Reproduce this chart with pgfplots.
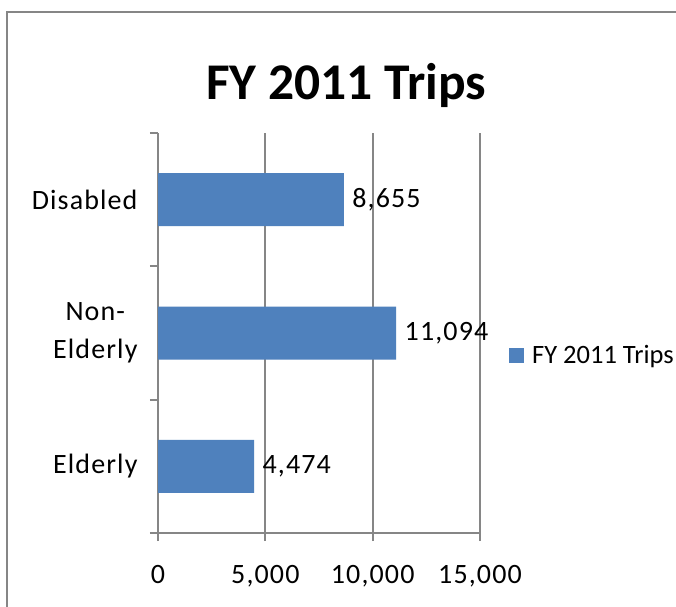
\documentclass[border=0pt]{standalone}
\usepackage{fontspec}
\setmainfont{Carlito}
\usepackage{pgfplots}
\pgfplotsset{compat=1.18}
\definecolor{barblue}{HTML}{4F81BD}
\definecolor{gridgray}{HTML}{868686}
\newcommand{\lblfont}{\fontsize{28}{38}\selectfont\addfontfeatures{LetterSpace=4}}
\newcommand{\legfont}{\fontsize{26.5}{36}\selectfont}
\begin{document}
\begin{tikzpicture}
\useasboundingbox (0,0) rectangle (676pt,606pt);
\clip (0,0) rectangle (676pt,606pt);
\fill[white] (0,0) rectangle (676pt,606pt);
\draw[gridgray, line width=1.8pt] (7pt,-2pt) -- (7pt,594pt) -- (690pt,594pt);
\begin{axis}[
  at={(158pt,73pt)}, anchor=south west,
  scale only axis, width=322pt, height=400pt,
  xmin=0, xmax=15000, ymin=-0.5, ymax=2.5,
  axis x line*=bottom, axis y line*=left,
  axis line style={gridgray, line width=1.8pt, -},
  tick align=outside, major tick length=8pt,
  tick style={gridgray, line width=1.8pt},
  xmajorgrids, major grid style={gridgray, line width=1.8pt},
  xtick={0,5000,10000,15000},
  scaled x ticks=false,
  ytick={-0.5,0.5,1.5,2.5}, yticklabels={},
  extra y ticks={0,1,2},
  extra y tick labels={Elderly,{Non-\\Elderly},Disabled},
  extra y tick style={major tick length=0pt, yticklabel style={align=center, font=\lblfont, xshift=-17pt}},
  /pgf/number format/.cd, 1000 sep={,}, assume math mode=true, /pgfplots/.cd,
  xticklabel style={font=\lblfont, yshift=-21pt},
  xbar, bar width=53pt,
  nodes near coords,
  nodes near coords style={font=\lblfont, black, xshift=5pt},
  title={FY 2011 Trips},
  title style={at={(0.584,1.0675)}, anchor=base, font=\bfseries\fontsize{51.5}{60}\selectfont},
  legend style={at={(1.09,0.445)}, anchor=west, draw=none, fill=none, inner sep=0pt, font=\legfont, nodes={inner xsep=8pt}},
  legend image code/.code={\fill[barblue] (9pt,-7.5pt) rectangle (24pt,7.5pt);},
]
\addplot[fill=barblue, draw=none] coordinates {(4474,0) (11094,1) (8655,2)};
\addlegendentry{FY 2011 Trips}
\end{axis}
\end{tikzpicture}
\end{document}
